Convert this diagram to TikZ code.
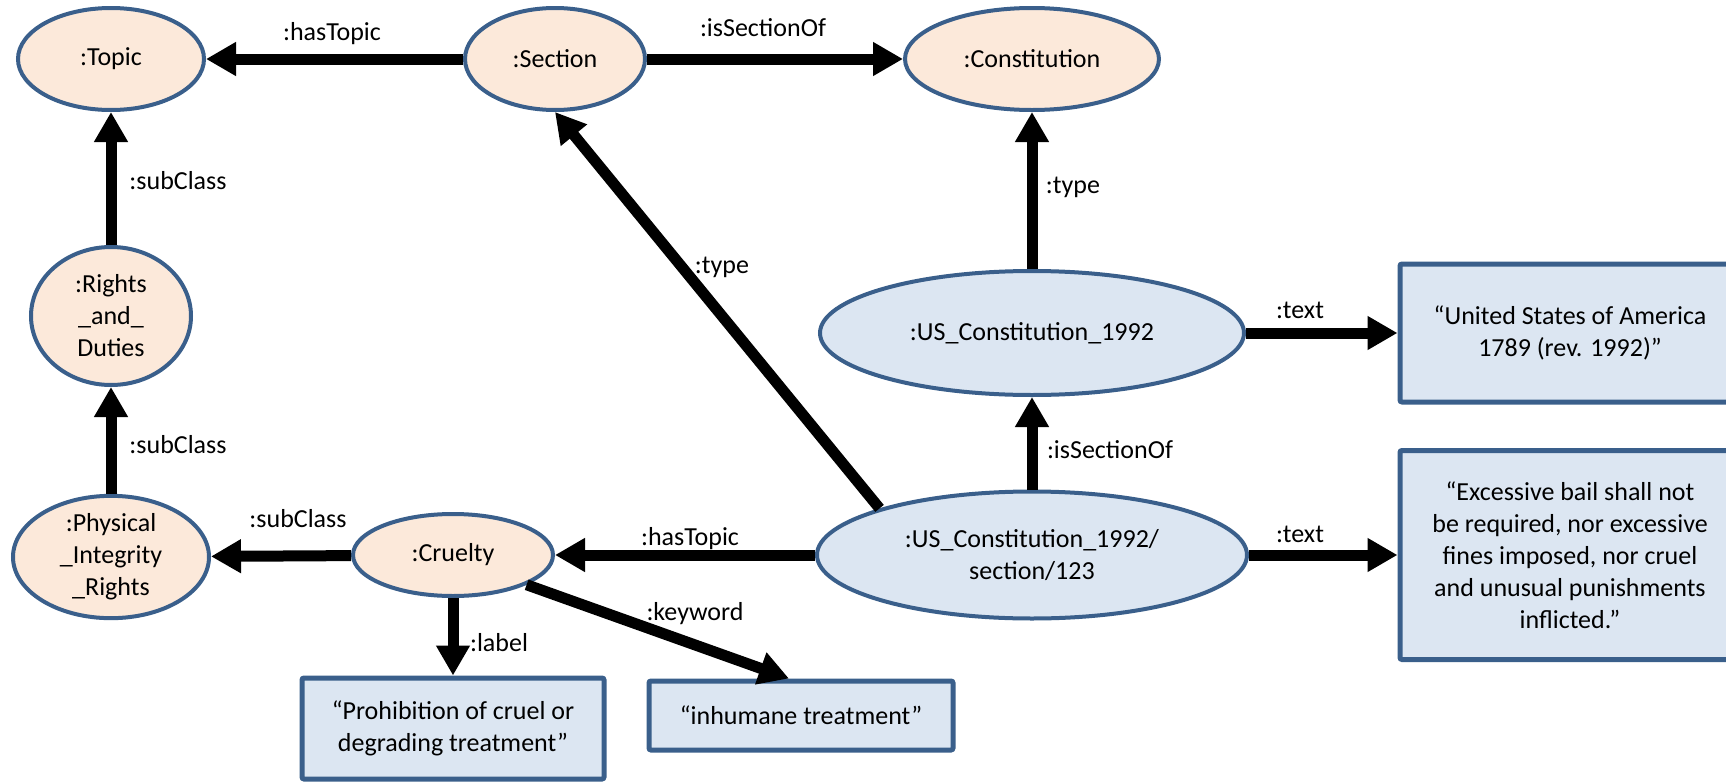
\documentclass[tikz,border=0pt]{standalone}
\usepackage{fontspec}
\setmainfont{Carlito}
\usetikzlibrary{shapes.geometric,arrows.meta}
\definecolor{edgeblue}{HTML}{3A5F8B}
\definecolor{peach}{HTML}{FCE9DA}
\definecolor{paleblue}{HTML}{DCE6F2}
\begin{document}
\begin{tikzpicture}[x=0.5pt,y=-0.5pt,
  every node/.style={font=\fontsize{13pt}{16pt}\selectfont, inner sep=0pt},
  cls/.style={ellipse, draw=edgeblue, line width=2pt, fill=peach, align=center},
  inst/.style={ellipse, draw=edgeblue, line width=2pt, fill=paleblue, align=center},
  lit/.style={rectangle, draw=edgeblue, line width=2.5pt, fill=paleblue, align=center, rounded corners=1pt},
  rel/.style={line width=5.5pt, -{Triangle[length=15pt,width=16pt]}},
  lbl/.style={anchor=base}
]
\useasboundingbox (0,0) rectangle (1726,782);

% classes
\node[cls, minimum width=93pt, minimum height=51pt] (topic) at (111,59) {:Topic};
\node[cls, minimum width=90pt, minimum height=51pt] (section) at (555,59) {:Section};
\node[cls, minimum width=127pt, minimum height=51pt] (constitution) at (1032,59) {:Constitution};
\node[cls, minimum width=80pt, minimum height=69pt] (rights) at (111,316) {:Rights\\\_and\_\\Duties};
\node[cls, minimum width=98pt, minimum height=59pt] (physical) at (111,557) {:Physical\\\_Integrity\\\_Rights};
\node[cls, minimum width=100pt, minimum height=41pt] (cruelty) at (453,555) {:Cruelty};

% instances
\node[inst, minimum width=212pt, minimum height=62pt] (usc) at (1032,333) {:US\_Constitution\_1992};
\node[inst, minimum width=215pt, minimum height=63.5pt] (sec123) at (1032,555) {:US\_Constitution\_1992/\\section/123};

% literals
\node[lit, minimum width=170pt, minimum height=69pt] (txtusc) at (1570,333) {“United States of America\\1789 (rev. 1992)”};
\node[lit, minimum width=170pt, minimum height=104.5pt] (txtsec) at (1570,555) {“Excessive bail shall not\\be required, nor excessive\\fines imposed, nor cruel\\and unusual punishments\\inflicted.”};
\node[lit, minimum width=151pt, minimum height=50.5pt] (prohib) at (453,728.5) {“Prohibition of cruel or\\degrading treatment”};
\node[lit, minimum width=152pt, minimum height=34.5pt] (inhumane) at (801,715.5) {“inhumane treatment”};

% relations
\draw[rel] (section) -- (topic);
\draw[rel] (section) -- (constitution);
\draw[rel] (rights) -- (topic);
\draw[rel] (physical) -- (rights);
\draw[rel] (cruelty) -- (physical);
\draw[rel] (sec123) -- (cruelty);
\draw[rel] (usc) -- (constitution);
\draw[rel] (sec123) -- (usc);
\draw[rel] (usc) -- (txtusc);
\draw[rel] (sec123) -- (txtsec);
\draw[rel] (sec123.163) -- (section.south);
\draw[rel] (cruelty.south) -- (prohib.north);
\draw[rel] (cruelty.-22) -- ([xshift=-6pt]inhumane.north);

% relation labels
\node[lbl] (lhas1) at (332,40) {:hasTopic};
\node[lbl] (liso1) at (763,36) {:isSectionOf};
\node[lbl] (lsub1) at (178,189) {:subClass};
\node[lbl] (lsub2) at (178,453) {:subClass};
\node[lbl] (lsub3) at (298,527) {:subClass};
\node[lbl] (ltype1) at (722,273) {:type};
\node[lbl] (ltype2) at (1073,193) {:type};
\node[lbl] (ltext1) at (1300,318) {:text};
\node[lbl] (liso2) at (1110,458) {:isSectionOf};
\node[lbl] (lhas2) at (690,545) {:hasTopic};
\node[lbl] (ltext2) at (1300,542) {:text};
\node[lbl] (lkey) at (695,620) {:keyword};
\node[lbl] (llab) at (499,651) {:label};
\end{tikzpicture}
\end{document}
